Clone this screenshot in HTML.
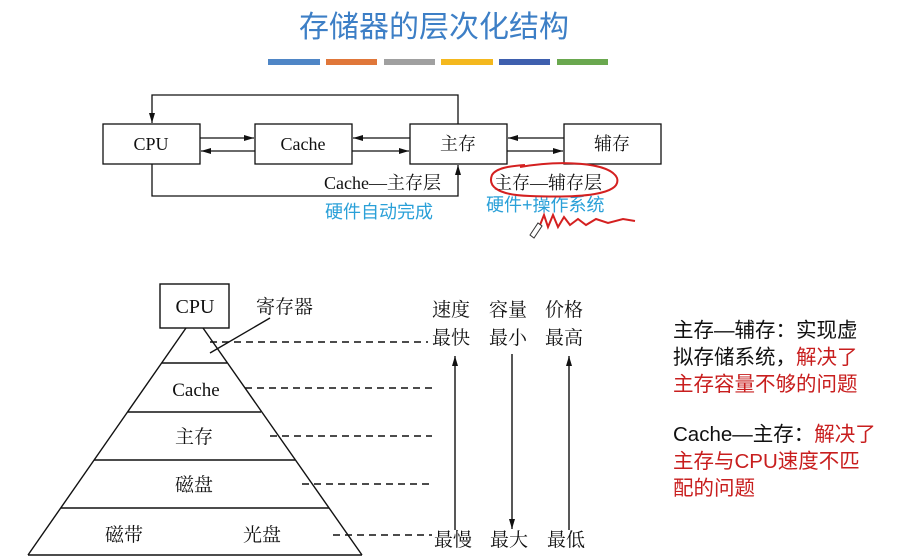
<!DOCTYPE html>
<html><head><meta charset="utf-8"><style>
html,body{margin:0;padding:0;background:#fff;}
svg{display:block;}
text{font-family:"Liberation Serif","Noto Serif CJK SC",serif;fill:#111;}
.s{font-family:"Liberation Sans","Noto Sans CJK SC",sans-serif;}
</style></head><body>
<svg width="918" height="558" viewBox="0 0 918 558" xmlns="http://www.w3.org/2000/svg">
<defs>
<marker id="a" markerWidth="10" markerHeight="6" refX="10" refY="3" orient="auto" markerUnits="userSpaceOnUse"><path d="M0,0 L10,3 L0,6 z" fill="#111"/></marker>
</defs>
<!-- title -->
<text x="434" y="37" text-anchor="middle" class="s" style="font-size:30px;fill:#3d7fc6">存储器的层次化结构</text>
<rect x="268" y="59" width="52" height="6" fill="#4f86c6"/>
<rect x="326" y="59" width="51" height="6" fill="#e0773a"/>
<rect x="384" y="59" width="51" height="6" fill="#a0a0a0"/>
<rect x="441" y="59" width="52" height="6" fill="#f4b81e"/>
<rect x="499" y="59" width="51" height="6" fill="#3e5fae"/>
<rect x="557" y="59" width="51" height="6" fill="#6aa84f"/>
<!-- top diagram -->
<g stroke="#111" stroke-width="1.3" fill="none">
<rect x="103" y="124" width="97" height="40"/>
<rect x="255" y="124" width="97" height="40"/>
<rect x="410" y="124" width="97" height="40"/>
<rect x="564" y="124" width="97" height="40"/>
<polyline points="458,124 458,95 152,95 152,123" marker-end="url(#a)"/>
<polyline points="152,164 152,196 458,196 458,165" marker-end="url(#a)"/>
<line x1="200" y1="138" x2="254" y2="138" marker-end="url(#a)"/>
<line x1="255" y1="151" x2="201" y2="151" marker-end="url(#a)"/>
<line x1="410" y1="138" x2="353" y2="138" marker-end="url(#a)"/>
<line x1="352" y1="151" x2="409" y2="151" marker-end="url(#a)"/>
<line x1="564" y1="138" x2="508" y2="138" marker-end="url(#a)"/>
<line x1="507" y1="151" x2="563" y2="151" marker-end="url(#a)"/>
</g>
<text x="151" y="150" text-anchor="middle" style="font-size:18px">CPU</text>
<text x="303" y="150" text-anchor="middle" style="font-size:18px">Cache</text>
<text x="458" y="150" text-anchor="middle" style="font-size:18px">主存</text>
<text x="612" y="150" text-anchor="middle" style="font-size:18px">辅存</text>
<text x="324" y="189" style="font-size:18px">Cache—主存层</text>
<text x="494" y="189" style="font-size:18px">主存—辅存层</text>
<text x="325" y="218" class="s" style="font-size:18px;fill:#2aa0d8">硬件自动完成</text>
<text x="486" y="211" class="s" style="font-size:18px;fill:#2aa0d8">硬件+操作系统</text>
<path d="M520,167 C560,160 610,162 617,178 C622,195 580,198 530,196 C495,195 488,185 492,175 C496,168 510,166 525,165" stroke="#d42020" stroke-width="2" fill="none"/>
<path d="M540,225 l4,-10 4,12 5,-12 5,12 6,-10 6,8 8,-6 8,6 10,-6 12,4 15,-4 12,2" stroke="#d42020" stroke-width="2" fill="none"/>
<path d="M530,235 l8,-12 4,3 -8,12 z" stroke="#333" stroke-width="1" fill="#fff"/>
<!-- pyramid -->
<g stroke="#111" stroke-width="1.4" fill="none">
<rect x="160" y="284" width="69" height="44"/>
<line x1="186" y1="328" x2="28" y2="555"/>
<line x1="203" y1="328" x2="362" y2="555"/>
<line x1="28" y1="555" x2="362" y2="555"/>
<line x1="162" y1="363" x2="227" y2="363"/>
<line x1="128" y1="412" x2="261" y2="412"/>
<line x1="94" y1="460" x2="295" y2="460"/>
<line x1="61" y1="508" x2="329" y2="508"/>
<line x1="270" y1="318" x2="210" y2="353"/>
<g stroke-dasharray="7,5">
<line x1="210" y1="342" x2="428" y2="342"/>
<line x1="245" y1="388" x2="432" y2="388"/>
<line x1="270" y1="436" x2="432" y2="436"/>
<line x1="302" y1="484" x2="432" y2="484"/>
<line x1="333" y1="535" x2="432" y2="535"/>
</g>
<line x1="455" y1="530" x2="455" y2="356" marker-end="url(#a)"/>
<line x1="512" y1="354" x2="512" y2="529" marker-end="url(#a)"/>
<line x1="569" y1="530" x2="569" y2="356" marker-end="url(#a)"/>
</g>
<text x="195" y="313" text-anchor="middle" style="font-size:20px">CPU</text>
<text x="256" y="313" style="font-size:19px">寄存器</text>
<text x="196" y="396" text-anchor="middle" style="font-size:19px">Cache</text>
<text x="194" y="443" text-anchor="middle" style="font-size:19px">主存</text>
<text x="194" y="491" text-anchor="middle" style="font-size:19px">磁盘</text>
<text x="124" y="541" text-anchor="middle" style="font-size:19px">磁带</text>
<text x="262" y="541" text-anchor="middle" style="font-size:19px">光盘</text>
<g style="font-size:19px">
<text x="432" y="316">速度</text><text x="432" y="344">最快</text>
<text x="489" y="316">容量</text><text x="489" y="344">最小</text>
<text x="545" y="316">价格</text><text x="545" y="344">最高</text>
<text x="434" y="546">最慢</text><text x="490" y="546">最大</text><text x="547" y="546">最低</text>
</g>
<!-- right text -->
<g class="s" style="font-size:20.5px">
<text x="673" y="337" class="s" style="fill:#111">主存—辅存：实现虚</text>
<text x="673" y="364" class="s"><tspan style="fill:#111">拟存储系统，</tspan><tspan style="fill:#c81e1e">解决了</tspan></text>
<text x="673" y="391" class="s" style="fill:#c81e1e">主存容量不够的问题</text>
<text x="673" y="441" class="s"><tspan style="fill:#111">Cache—主存：</tspan><tspan style="fill:#c81e1e">解决了</tspan></text>
<text x="673" y="468" class="s" style="fill:#c81e1e">主存与CPU速度不匹</text>
<text x="673" y="495" class="s" style="fill:#c81e1e">配的问题</text>
</g>
</svg>
</body></html>
